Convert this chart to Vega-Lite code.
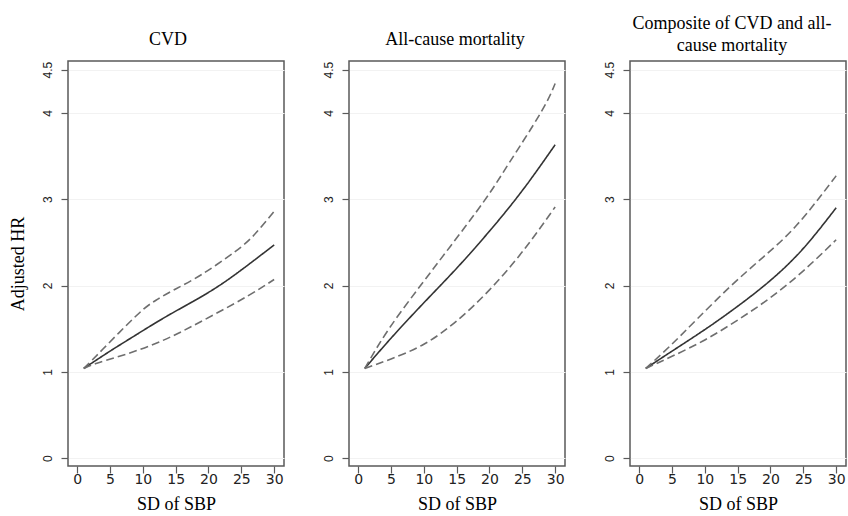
{
  "$schema": "https://vega.github.io/schema/vega-lite/v6.json",
  "background": "white",
  "padding": {"left": 8, "top": 14, "right": 0, "bottom": 0},
  "datasets": {
    "curves": [
      {"panel": "CVD", "series": "HR", "sd": 1, "hr": 1.04},
      {"panel": "CVD", "series": "HR", "sd": 5, "hr": 1.24},
      {"panel": "CVD", "series": "HR", "sd": 9, "hr": 1.43},
      {"panel": "CVD", "series": "HR", "sd": 14, "hr": 1.66},
      {"panel": "CVD", "series": "HR", "sd": 20, "hr": 1.92},
      {"panel": "CVD", "series": "HR", "sd": 25, "hr": 2.18},
      {"panel": "CVD", "series": "HR", "sd": 30, "hr": 2.47},
      {"panel": "CVD", "series": "Upper", "sd": 1, "hr": 1.04},
      {"panel": "CVD", "series": "Upper", "sd": 4, "hr": 1.27},
      {"panel": "CVD", "series": "Upper", "sd": 9, "hr": 1.65},
      {"panel": "CVD", "series": "Upper", "sd": 12, "hr": 1.83},
      {"panel": "CVD", "series": "Upper", "sd": 15, "hr": 1.96},
      {"panel": "CVD", "series": "Upper", "sd": 19, "hr": 2.13},
      {"panel": "CVD", "series": "Upper", "sd": 24, "hr": 2.39},
      {"panel": "CVD", "series": "Upper", "sd": 27, "hr": 2.59},
      {"panel": "CVD", "series": "Upper", "sd": 30, "hr": 2.86},
      {"panel": "CVD", "series": "Lower", "sd": 1, "hr": 1.04},
      {"panel": "CVD", "series": "Lower", "sd": 3, "hr": 1.1},
      {"panel": "CVD", "series": "Lower", "sd": 6, "hr": 1.17},
      {"panel": "CVD", "series": "Lower", "sd": 11, "hr": 1.3},
      {"panel": "CVD", "series": "Lower", "sd": 16, "hr": 1.47},
      {"panel": "CVD", "series": "Lower", "sd": 21, "hr": 1.67},
      {"panel": "CVD", "series": "Lower", "sd": 26, "hr": 1.88},
      {"panel": "CVD", "series": "Lower", "sd": 30, "hr": 2.07},
      {"panel": "ACM", "series": "HR", "sd": 1, "hr": 1.04},
      {"panel": "ACM", "series": "HR", "sd": 5, "hr": 1.39},
      {"panel": "ACM", "series": "HR", "sd": 10, "hr": 1.8},
      {"panel": "ACM", "series": "HR", "sd": 15, "hr": 2.2},
      {"panel": "ACM", "series": "HR", "sd": 20, "hr": 2.63},
      {"panel": "ACM", "series": "HR", "sd": 25, "hr": 3.1},
      {"panel": "ACM", "series": "HR", "sd": 30, "hr": 3.63},
      {"panel": "ACM", "series": "Upper", "sd": 1, "hr": 1.04},
      {"panel": "ACM", "series": "Upper", "sd": 4.7, "hr": 1.5},
      {"panel": "ACM", "series": "Upper", "sd": 9.5, "hr": 2.0},
      {"panel": "ACM", "series": "Upper", "sd": 14, "hr": 2.45},
      {"panel": "ACM", "series": "Upper", "sd": 19.2, "hr": 2.98},
      {"panel": "ACM", "series": "Upper", "sd": 23, "hr": 3.42},
      {"panel": "ACM", "series": "Upper", "sd": 27.8, "hr": 4.0},
      {"panel": "ACM", "series": "Upper", "sd": 30, "hr": 4.34},
      {"panel": "ACM", "series": "Lower", "sd": 1, "hr": 1.04},
      {"panel": "ACM", "series": "Lower", "sd": 5, "hr": 1.15},
      {"panel": "ACM", "series": "Lower", "sd": 10, "hr": 1.32},
      {"panel": "ACM", "series": "Lower", "sd": 15, "hr": 1.59},
      {"panel": "ACM", "series": "Lower", "sd": 20, "hr": 1.95},
      {"panel": "ACM", "series": "Lower", "sd": 25, "hr": 2.39},
      {"panel": "ACM", "series": "Lower", "sd": 30, "hr": 2.91},
      {"panel": "COMP", "series": "HR", "sd": 1, "hr": 1.04},
      {"panel": "COMP", "series": "HR", "sd": 5, "hr": 1.24},
      {"panel": "COMP", "series": "HR", "sd": 10, "hr": 1.49},
      {"panel": "COMP", "series": "HR", "sd": 15, "hr": 1.76},
      {"panel": "COMP", "series": "HR", "sd": 20, "hr": 2.06},
      {"panel": "COMP", "series": "HR", "sd": 25, "hr": 2.43},
      {"panel": "COMP", "series": "HR", "sd": 30, "hr": 2.9},
      {"panel": "COMP", "series": "Upper", "sd": 1, "hr": 1.04},
      {"panel": "COMP", "series": "Upper", "sd": 4.7, "hr": 1.3},
      {"panel": "COMP", "series": "Upper", "sd": 8.8, "hr": 1.61},
      {"panel": "COMP", "series": "Upper", "sd": 13.9, "hr": 1.99},
      {"panel": "COMP", "series": "Upper", "sd": 18.9, "hr": 2.33},
      {"panel": "COMP", "series": "Upper", "sd": 24, "hr": 2.7},
      {"panel": "COMP", "series": "Upper", "sd": 30, "hr": 3.27},
      {"panel": "COMP", "series": "Lower", "sd": 1, "hr": 1.04},
      {"panel": "COMP", "series": "Lower", "sd": 5, "hr": 1.18},
      {"panel": "COMP", "series": "Lower", "sd": 10, "hr": 1.37},
      {"panel": "COMP", "series": "Lower", "sd": 15, "hr": 1.6},
      {"panel": "COMP", "series": "Lower", "sd": 20, "hr": 1.86},
      {"panel": "COMP", "series": "Lower", "sd": 25, "hr": 2.17},
      {"panel": "COMP", "series": "Lower", "sd": 30, "hr": 2.53}
    ]
  },
  "config": {
    "view": {"stroke": "#5a5a5a", "strokeWidth": 1.5},
    "concat": {"spacing": 36},
    "title": {"font": "Liberation Serif", "fontSize": 18, "fontWeight": "normal", "color": "#000000", "anchor": "middle", "baseline": "alphabetic", "lineHeight": 22},
    "axis": {
      "labelColor": "#222222", "tickColor": "#5a5a5a", "tickSize": 7, "tickWidth": 1.2, "domain": false,
      "titleFont": "Liberation Serif", "titleFontSize": 18, "titleFontWeight": "normal", "titleColor": "#000000"
    }
  },
  "hconcat": [
    {
      "title": {"text": "CVD", "offset": 12, "dx": -8},
      "width": 216, "height": 405,
      "data": {"name": "curves"},
      "transform": [{"filter": "datum.panel === 'CVD'"}],
      "mark": {"type": "line", "interpolate": "natural", "strokeWidth": 1.6},
      "encoding": {
        "x": {"field": "sd", "type": "quantitative", "scale": {"domain": [-1.4, 31.5], "nice": false, "zero": false},
              "axis": {"values": [0, 5, 10, 15, 20, 25, 30], "title": "SD of SBP", "grid": false, "labelFont": "DejaVu Sans", "labelFontSize": 14, "labelPadding": -1, "titlePadding": 9}},
        "y": {"field": "hr", "type": "quantitative", "scale": {"domain": [-0.09, 4.6], "nice": false, "zero": false},
              "axis": {"values": [0, 1, 2, 3, 4, 4.5], "format": ".1~f", "title": "Adjusted HR", "grid": true, "gridColor": "#f2f2f2", "labelFont": "Liberation Sans", "labelFontSize": 12, "labelAngle": -90, "labelAlign": "center", "labelBaseline": "bottom", "labelPadding": 7, "titlePadding": 14}},
        "detail": {"field": "series"},
        "color": {"field": "series", "type": "nominal", "legend": null, "scale": {"domain": ["HR", "Lower", "Upper"], "range": ["#333333", "#6e6e6e", "#6e6e6e"]}},
        "strokeDash": {"field": "series", "type": "nominal", "legend": null, "scale": {"domain": ["HR", "Lower", "Upper"], "range": [[1, 0], [8, 4], [8, 4]]}}
      }
    },
    {
      "title": {"text": "All-cause mortality", "offset": 12, "dx": -2},
      "width": 216, "height": 405,
      "data": {"name": "curves"},
      "transform": [{"filter": "datum.panel === 'ACM'"}],
      "mark": {"type": "line", "interpolate": "natural", "strokeWidth": 1.6},
      "encoding": {
        "x": {"field": "sd", "type": "quantitative", "scale": {"domain": [-1.4, 31.5], "nice": false, "zero": false},
              "axis": {"values": [0, 5, 10, 15, 20, 25, 30], "title": "SD of SBP", "grid": false, "labelFont": "DejaVu Sans", "labelFontSize": 14, "labelPadding": -1, "titlePadding": 9}},
        "y": {"field": "hr", "type": "quantitative", "scale": {"domain": [-0.09, 4.6], "nice": false, "zero": false},
              "axis": {"values": [0, 1, 2, 3, 4, 4.5], "format": ".1~f", "title": null, "grid": true, "gridColor": "#f2f2f2", "labelFont": "Liberation Sans", "labelFontSize": 12, "labelAngle": -90, "labelAlign": "center", "labelBaseline": "bottom", "labelPadding": 7}},
        "detail": {"field": "series"},
        "color": {"field": "series", "type": "nominal", "legend": null, "scale": {"domain": ["HR", "Lower", "Upper"], "range": ["#333333", "#6e6e6e", "#6e6e6e"]}},
        "strokeDash": {"field": "series", "type": "nominal", "legend": null, "scale": {"domain": ["HR", "Lower", "Upper"], "range": [[1, 0], [8, 4], [8, 4]]}}
      }
    },
    {
      "title": {"text": ["Composite of CVD and all-", "cause mortality"], "offset": 6, "dx": -6},
      "width": 216, "height": 405,
      "data": {"name": "curves"},
      "transform": [{"filter": "datum.panel === 'COMP'"}],
      "mark": {"type": "line", "interpolate": "natural", "strokeWidth": 1.6},
      "encoding": {
        "x": {"field": "sd", "type": "quantitative", "scale": {"domain": [-1.4, 31.5], "nice": false, "zero": false},
              "axis": {"values": [0, 5, 10, 15, 20, 25, 30], "title": "SD of SBP", "grid": false, "labelFont": "DejaVu Sans", "labelFontSize": 14, "labelPadding": -1, "titlePadding": 9}},
        "y": {"field": "hr", "type": "quantitative", "scale": {"domain": [-0.09, 4.6], "nice": false, "zero": false},
              "axis": {"values": [0, 1, 2, 3, 4, 4.5], "format": ".1~f", "title": null, "grid": true, "gridColor": "#f2f2f2", "labelFont": "Liberation Sans", "labelFontSize": 12, "labelAngle": -90, "labelAlign": "center", "labelBaseline": "bottom", "labelPadding": 7}},
        "detail": {"field": "series"},
        "color": {"field": "series", "type": "nominal", "legend": null, "scale": {"domain": ["HR", "Lower", "Upper"], "range": ["#333333", "#6e6e6e", "#6e6e6e"]}},
        "strokeDash": {"field": "series", "type": "nominal", "legend": null, "scale": {"domain": ["HR", "Lower", "Upper"], "range": [[1, 0], [8, 4], [8, 4]]}}
      }
    }
  ]
}
